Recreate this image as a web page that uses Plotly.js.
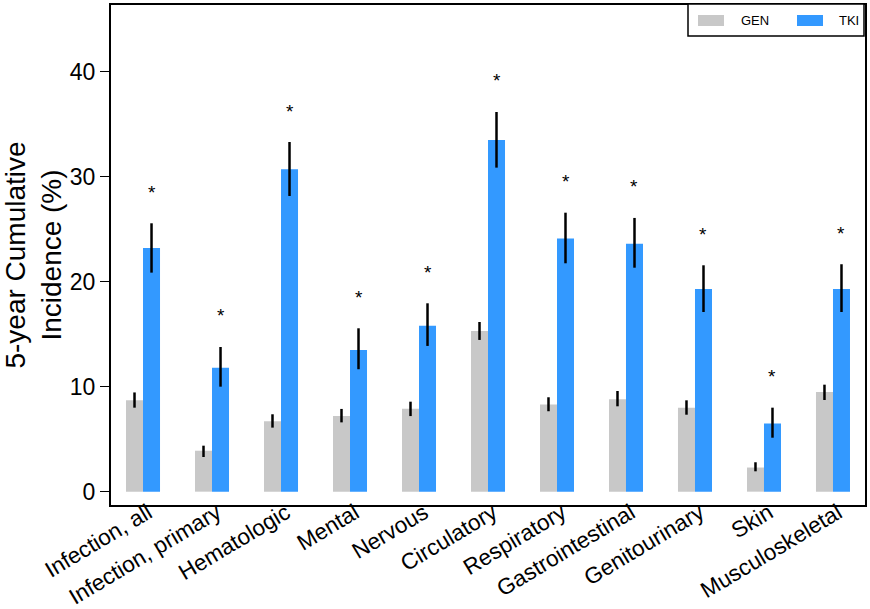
<!DOCTYPE html>
<html>
<head>
<meta charset="utf-8">
<script src="https://cdn.plot.ly/plotly-3.0.1.min.js"></script>
<style>html,body{margin:0;padding:0;background:#fff}#chart{width:870px;height:609px}</style>
</head>
<body>
<div id="chart"></div>
<script>
const categories = ["Infection, all","Infection, primary","Hematologic","Mental","Nervous","Circulatory","Respiratory","Gastrointestinal","Genitourinary","Skin","Musculoskeletal"];
const seriesNames = ["GEN", "TKI"];
const genValues = [8.7, 3.9, 6.7, 7.2, 7.9, 15.3, 8.3, 8.8, 8.0, 2.3, 9.5];
const genLower  = [8.0, 3.3, 6.1, 6.6, 7.2, 14.45, 7.66, 8.13, 7.33, 1.94, 8.73];
const genUpper  = [9.45, 4.38, 7.37, 7.88, 8.57, 16.16, 8.99, 9.59, 8.7, 2.8, 10.19];
const tkiValues = [23.2, 11.8, 30.7, 13.5, 15.8, 33.5, 24.1, 23.6, 19.3, 6.5, 19.3];
const tkiLower  = [20.86, 10.0, 28.16, 11.66, 13.88, 30.86, 21.75, 21.33, 17.11, 5.14, 17.11];
const tkiUpper  = [25.56, 13.78, 33.3, 15.56, 17.94, 36.16, 26.57, 26.07, 21.56, 8.0, 21.66];
const significant = [true,true,true,true,true,true,true,true,true,true,true];
const yTicks = [0, 10, 20, 30, 40];

const FONT = "Arial, 'Liberation Sans', sans-serif";
const COLORS = ["#c8c8c8", "#3399ff"];

function bar(name, vals, lo, hi, color) {
  return {
    type: "bar", name: name, x: categories, y: vals, showlegend: false,
    marker: {color: color},
    error_y: {type: "data", symmetric: false,
      array: hi.map((u,i)=>u-vals[i]),
      arrayminus: vals.map((v,i)=>v-lo[i]),
      color: "#000", thickness: 2.5, width: 0}
  };
}
const gen = bar(seriesNames[0], genValues, genLower, genUpper, COLORS[0]);
const tki = bar(seriesNames[1], tkiValues, tkiLower, tkiUpper, COLORS[1]);

// plot area in pixels (for legend placement)
const W = 870, H = 609, ML = 111, MR = 5, MT = 5, MB = 104;
const PW = W - ML - MR, PH = H - MT - MB;
const px = x => (x - ML) / PW;
const py = y => 1 - (y - MT) / PH;

const annotations = [];
categories.forEach((c,i)=>{
  if (significant[i]) annotations.push({
    x: c, y: tkiUpper[i], xref: "x", yref: "y", text: "*", showarrow: false,
    xshift: 8.5, yshift: 31, yanchor: "middle",
    font: {family: FONT, size: 19, color: "#000"}
  });
});

const shapes = [
  {type: "rect", xref: "paper", yref: "paper", x0: px(688), x1: px(864), y0: py(36), y1: py(4),
   line: {color: "#000", width: 1.5}, fillcolor: "#fff", layer: "above"}
];
const legendSwatchX = [698, 797];
const legendTextX = [739, 837];
seriesNames.forEach((n,i)=>{
  shapes.push({type: "rect", xref: "paper", yref: "paper",
    x0: px(legendSwatchX[i]), x1: px(legendSwatchX[i] + 26), y0: py(26), y1: py(15),
    line: {width: 0}, fillcolor: COLORS[i], layer: "above"});
  annotations.push({xref: "paper", yref: "paper", x: px(legendTextX[i]), y: py(20.5),
    xanchor: "left", yanchor: "middle", text: n, showarrow: false,
    font: {family: FONT, size: 13, color: "#000"}});
});

const layout = {
  width: W, height: H,
  margin: {l: ML, r: MR, t: MT, b: MB},
  paper_bgcolor: "#fff", plot_bgcolor: "#fff",
  font: {family: FONT, color: "#000"},
  barmode: "group", bargap: 0.507, bargroupgap: 0,
  showlegend: false,
  xaxis: {type: "category", range: [-0.464, 10.464], showline: true, linecolor: "#000", linewidth: 2,
    mirror: true, ticks: "", tickangle: -31, tickfont: {family: FONT, size: 22.5}, showgrid: false, zeroline: false,
    ticklabelstandoff: -16, ticklabelshift: 5},
  yaxis: {range: [-1.27, 46.35], showline: true, linecolor: "#000", linewidth: 2, mirror: true,
    ticks: "outside", ticklen: 9, tickwidth: 1.5, tickcolor: "#000",
    tickvals: yTicks, ticktext: yTicks.map(String),
    tickfont: {family: FONT, size: 23}, showgrid: false, zeroline: false,
    title: {text: "5-year Cumulative<br>Incidence (%)", font: {family: FONT, size: 28}, standoff: 14}},
  shapes: shapes,
  annotations: annotations
};

Plotly.newPlot("chart", [gen, tki], layout, {displayModeBar: false, staticPlot: true});
</script>
</body>
</html>
